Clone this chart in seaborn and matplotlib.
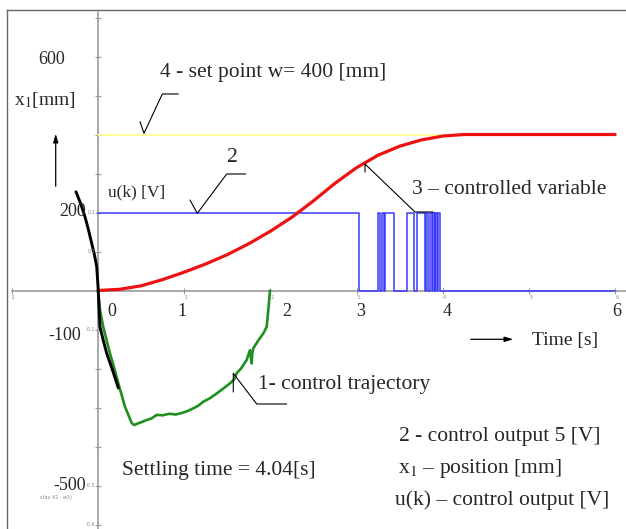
import numpy as np
import matplotlib
matplotlib.use("Agg")
import matplotlib.pyplot as plt
import seaborn as sns

# --- data (time in s, position in mm) ---
red_t = [0, 0.25, 0.5, 0.75, 1.0, 1.25, 1.5, 1.75, 2.0, 2.25, 2.5, 2.75, 3.0,
         3.25, 3.5, 3.75, 4.0, 4.25, 6.0]
red_y = [0, 3, 12, 28, 47, 68, 92, 120, 152, 188, 230, 275, 315,
         347, 370, 386, 396, 400, 400]

setpoint_t = [0, 6.0]
setpoint_y = [400, 400]

# control output u(k): switching instants and level (200 = 5 V)
u_t = [0, 3.03, 3.245, 3.27, 3.30, 3.32, 3.325, 3.43, 3.58, 3.67, 3.70, 3.79,
       3.80, 3.83, 3.85, 3.87, 3.89, 3.905, 3.915, 3.93, 3.94, 3.97, 6.0]
u_y = [200, 0, 200, 0, 200, 0, 200, 0, 200, 0, 200, 0,
       200, 0, 200, 0, 200, 0, 200, 0, 200, 0, 0]

# control trajectory (green)
traj_t = [0.0, 0.023, 0.061, 0.10, 0.139, 0.19, 0.236, 0.313, 0.391, 0.42, 0.449,
          0.50, 0.565, 0.62, 0.681, 0.75, 0.83, 0.90, 0.99, 1.05, 1.106, 1.16,
          1.222, 1.30, 1.377, 1.45, 1.531, 1.58, 1.609, 1.66, 1.725, 1.763,
          1.783, 1.79, 1.802, 1.86, 1.918, 1.957, 1.976, 1.995]
traj_y = [0, -50, -93, -128, -161, -200, -238, -298, -340, -345, -342,
          -338, -332, -328, -319, -320, -316, -318, -313, -308, -302, -296,
          -285, -276, -264, -252, -238, -228, -212, -200, -178, -153,
          -187, -160, -148, -128, -110, -93, -50, 0]

# black curve
black_t = [-0.255, -0.20, -0.151, -0.11, -0.073, -0.04, -0.015, 0.003, 0.015,
           0.023, 0.06, 0.101, 0.17, 0.236]
black_y = [253, 222, 189, 155, 121, 90, 61, 1, -60, -93, -127, -161, -205, -250]

x_ticks = [-1, 0, 1, 2, 3, 4, 5, 6]
y_ticks = list(range(-600, 701, 100))
small_x_labels = ["-1", "", "1", "2", "3", "4", "5", "6"]

# --- layout helpers (pixel positions of the original picture -> data) ---
W, H = 626, 529
X0, SX = 98.0, 86.2
Y0, SY = 290.5, 0.39


def px(x, y):
    return (x - X0) / SX, (Y0 - y) / SY


sns.set_style("white")
plt.rcParams["font.family"] = ["Liberation Serif", "DejaVu Serif"]
plt.rcParams["mathtext.fontset"] = "stix"

fig = plt.figure(figsize=(W / 100, H / 100), dpi=100)
ax = fig.add_axes([7 / W, 0, (W - 7) / W, (H - 10) / H])
ax.set_xlim(px(7, 0)[0], px(W, 0)[0])
ax.set_ylim(px(0, H)[1], px(0, 10)[1])
ax.set_xticks([])
ax.set_yticks([])
for s in ["right", "bottom"]:
    ax.spines[s].set_visible(False)
for s in ["top", "left"]:
    ax.spines[s].set_color("#666666")
    ax.spines[s].set_linewidth(1.0)

# coordinate axes through the origin
gray = "#9a9a9a"
ax.plot([px(12, 0)[0], px(W, 0)[0]], [0, 0], color=gray, lw=1.2, zorder=1)
ax.plot([0, 0], [px(0, H)[1], px(0, 12)[1]], color=gray, lw=1.2, zorder=1)
ax.plot(x_ticks, [0] * len(x_ticks), ls="none", marker="|", ms=4, color=gray, mew=0.8)
ax.plot([0] * len(y_ticks), y_ticks, ls="none", marker="_", ms=4, color=gray, mew=0.8)

tiny = dict(fontsize=3.5, color="#8a8a8a", family="DejaVu Sans")
for t, lab in zip(x_ticks, small_x_labels):
    if lab:
        ax.text(t + 0.02, -18, lab, ha="center", va="center", **tiny)
for v, lab in [(200, "0.2"), (100, "0.1"), (-100, "-0.1"), (-500, "-0.5"), (-600, "-0.6")]:
    ax.text(-0.03, v, lab, ha="right", va="center", **tiny)
ax.text(*px(56, 497), "stav X2 - e(t)", ha="center", va="center", **tiny)

# curves
sns.lineplot(x=setpoint_t, y=setpoint_y, ax=ax, color="#ffff8c", lw=1.3, legend=False)
sns.lineplot(x=u_t, y=u_y, ax=ax, color="#3a3aff", lw=1.1, drawstyle="steps-post",
             sort=False, estimator=None, legend=False)
sns.lineplot(x=red_t, y=red_y, ax=ax, color="#ee1111", lw=2.3, legend=False)
sns.lineplot(x=traj_t, y=traj_y, ax=ax, color="#1f8f1f", lw=1.9,
             sort=False, estimator=None, legend=False)
sns.lineplot(x=black_t, y=black_y, ax=ax, color="black", lw=2.1,
             sort=False, estimator=None, legend=False)

# leader lines
def leader(points, **kw):
    xs, ys = zip(*[px(*p) for p in points])
    ax.plot(xs, ys, color="black", lw=0.8, **kw)


leader([(140, 121.7), (144, 133.3), (162.3, 94), (178.3, 94)])
leader([(190, 200), (197.3, 213.3), (226.7, 174), (245.7, 174)])
leader([(365, 172), (365, 164), (415, 212), (433, 212)])
leader([(233.3, 392), (233.3, 373.3), (256.7, 404), (286.7, 404)])

# arrows
ax.annotate("", xy=px(55.7, 131), xytext=px(55.7, 189),
            arrowprops=dict(arrowstyle="-|>,head_width=0.15,head_length=0.5", color="black", lw=0.9))
ax.annotate("", xy=px(516, 339.3), xytext=px(468, 339.3),
            arrowprops=dict(arrowstyle="-|>,head_width=0.15,head_length=0.5", color="black", lw=0.9))

# texts
big = 15.5
ax.text(*px(160, 73), "4 - set point w= 400 [mm]", fontsize=big, va="center")
ax.text(*px(232, 157), "2", fontsize=big, ha="center", va="center")
ax.text(*px(412, 190), "3 \u2013 controlled variable", fontsize=big, va="center")
ax.text(*px(258, 385), "1- control trajectory", fontsize=big, va="center")
ax.text(*px(122, 471), "Settling time = 4.04[s]", fontsize=big, va="center")
ax.text(*px(399, 437), "2 - control output 5 [V]", fontsize=big, va="center")
ax.text(*px(398, 469), r"x$_1$ \u2013 position [mm]".replace("\\u2013", "\u2013"),
        fontsize=big, va="center")
ax.text(*px(395, 500), "u(k) \u2013 control output [V]", fontsize=big, va="center")

ax.text(*px(14, 100), r"x$_1$[mm]", fontsize=14, va="center")
ax.text(*px(108, 192), "u(k) [V]", fontsize=12.5, va="center")
ax.text(*px(532, 340), "Time [s]", fontsize=14, va="center")

num = 13
ax.text(*px(52, 60), "600", fontsize=num, ha="center", va="center")
ax.text(*px(86, 212), "200", fontsize=num, ha="right", va="center")
ax.text(*px(81, 336), "-100", fontsize=num, ha="right", va="center")
ax.text(*px(86, 486), "-500", fontsize=num, ha="right", va="center")
for x, lab in [(112, "0"), (182, "1"), (287, "2"), (361, "3"), (447, "4"), (617, "6")]:
    ax.text(*px(x, 311), lab, fontsize=num, ha="center", va="center")

fig.savefig("out.png", dpi=100)
